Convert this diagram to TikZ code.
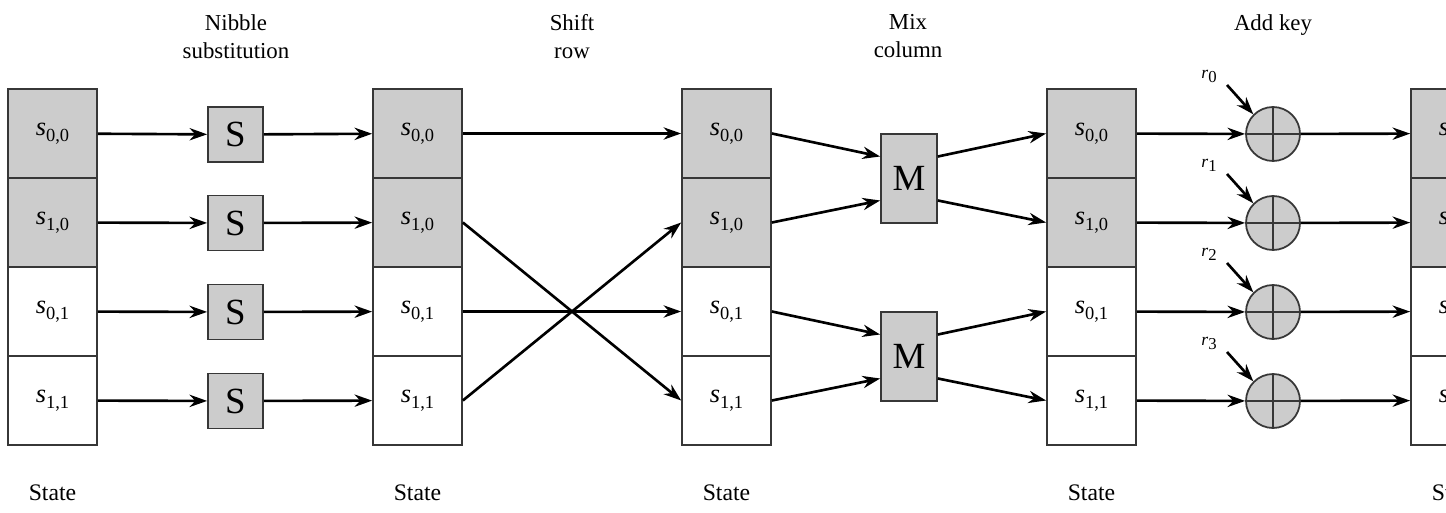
\documentclass[tikz,border=0pt]{standalone}
\usepackage{fontspec}
\setmainfont{Liberation Serif}
\usetikzlibrary{arrows.meta,positioning}
\definecolor{boxgray}{RGB}{204,204,204}
\definecolor{edgegray}{RGB}{55,55,55}

\newcommand{\sval}[1]{\textit{s}\raisebox{-0.5ex}{\fontsize{10.5}{11}\selectfont #1}}
\newcommand{\rkey}[1]{\textit{r}\raisebox{-0.5ex}{\fontsize{9.5}{10}\selectfont #1}}

\begin{document}
\begin{tikzpicture}[x=0.02cm, y=-0.02cm,
  cell/.style={draw=edgegray, line width=1pt, minimum width=1.78cm, minimum height=1.78cm, inner sep=0pt, font=\fontsize{15}{18}\selectfont},
  sbox/.style={draw=edgegray, fill=boxgray, line width=1pt, minimum size=1.1cm, inner sep=0pt, font=\fontsize{21}{24}\selectfont},
  mbox/.style={sbox, minimum width=1.12cm, minimum height=1.78cm},
  xorc/.style={circle, draw=edgegray, fill=boxgray, line width=1pt, minimum size=1.08cm, inner sep=0pt,
    path picture={\draw[edgegray, line width=0.8pt] (path picture bounding box.north) -- (path picture bounding box.south)
      (path picture bounding box.west) -- (path picture bounding box.east);}},
  flow/.style={-{Stealth[length=10pt,width=7pt]}, line width=1.5pt},
  headtext/.style={anchor=north, align=center, font=\fontsize{13}{16}\selectfont},
  statetext/.style={font=\fontsize{13.5}{16}\selectfont}
]

% Background
\clip (0,0) rectangle (1446,513);
\fill[white] (0,0) rectangle (1446,513);

% Headings
\node[headtext] (hsub) at (236,8) {Nibble\\substitution};
\node[headtext] (hshift) at (572,8) {Shift\\row};
\node[headtext] (hmix) at (908,8) {Mix\\column};
\node[headtext] (hkey) at (1273,8) {Add key};

% State columns
\foreach \c/\x in {1/52.5, 2/417.5, 3/726.5, 4/1091.5, 5/1455.5}{
  \foreach \r/\y/\lab/\fil in {0/133.5/{0,0}/boxgray, 1/222.5/{1,0}/boxgray, 2/311.5/{0,1}/white, 3/400.5/{1,1}/white}{
    \node[cell, fill=\fil] (s\c-\r) at (\x,\y) {\sval{\lab}};
  }
  \node[statetext] (st\c) at (\x,493) {State};
}

% Nibble substitution
\foreach \r/\y in {0/134.5, 1/223, 2/312, 3/401}{
  \node[sbox] (sb\r) at (235.5,\y) {S};
  \draw[flow] (s1-\r) -- (sb\r);
  \draw[flow] (sb\r) -- (s2-\r);
}

% Shift row
\draw[flow] (s2-0) -- (s3-0);
\draw[flow] (s2-2) -- (s3-2);
\draw[flow] (s2-1.east) -- (s3-3.west);
\draw[flow] (s2-3.east) -- (s3-1.west);

% Mix column
\node[mbox] (m0) at (909,178.5) {M};
\node[mbox] (m1) at (909,356.5) {M};
\foreach \m/\a/\b in {0/0/1, 1/2/3}{
  \draw[flow] (s3-\a.east) -- ([yshift=0.44cm]m\m.west);
  \draw[flow] (s3-\b.east) -- ([yshift=-0.44cm]m\m.west);
  \draw[flow] ([yshift=0.44cm]m\m.east) -- (s4-\a.west);
  \draw[flow] ([yshift=-0.44cm]m\m.east) -- (s4-\b.west);
}

% Add key
\foreach \r/\y in {0/134, 1/223, 2/312, 3/401}{
  \node[xorc] (x\r) at (1273,\y) {};
  \coordinate (k\r) at (1227,\y-49);
  \node (r\r) at (1209,\y-58) {\rkey{\r}};
  \draw[flow] (k\r) -- (x\r.north west);
  \draw[flow] (s4-\r) -- (x\r);
  \draw[flow] (x\r) -- (s5-\r);
}

\end{tikzpicture}
\end{document}
